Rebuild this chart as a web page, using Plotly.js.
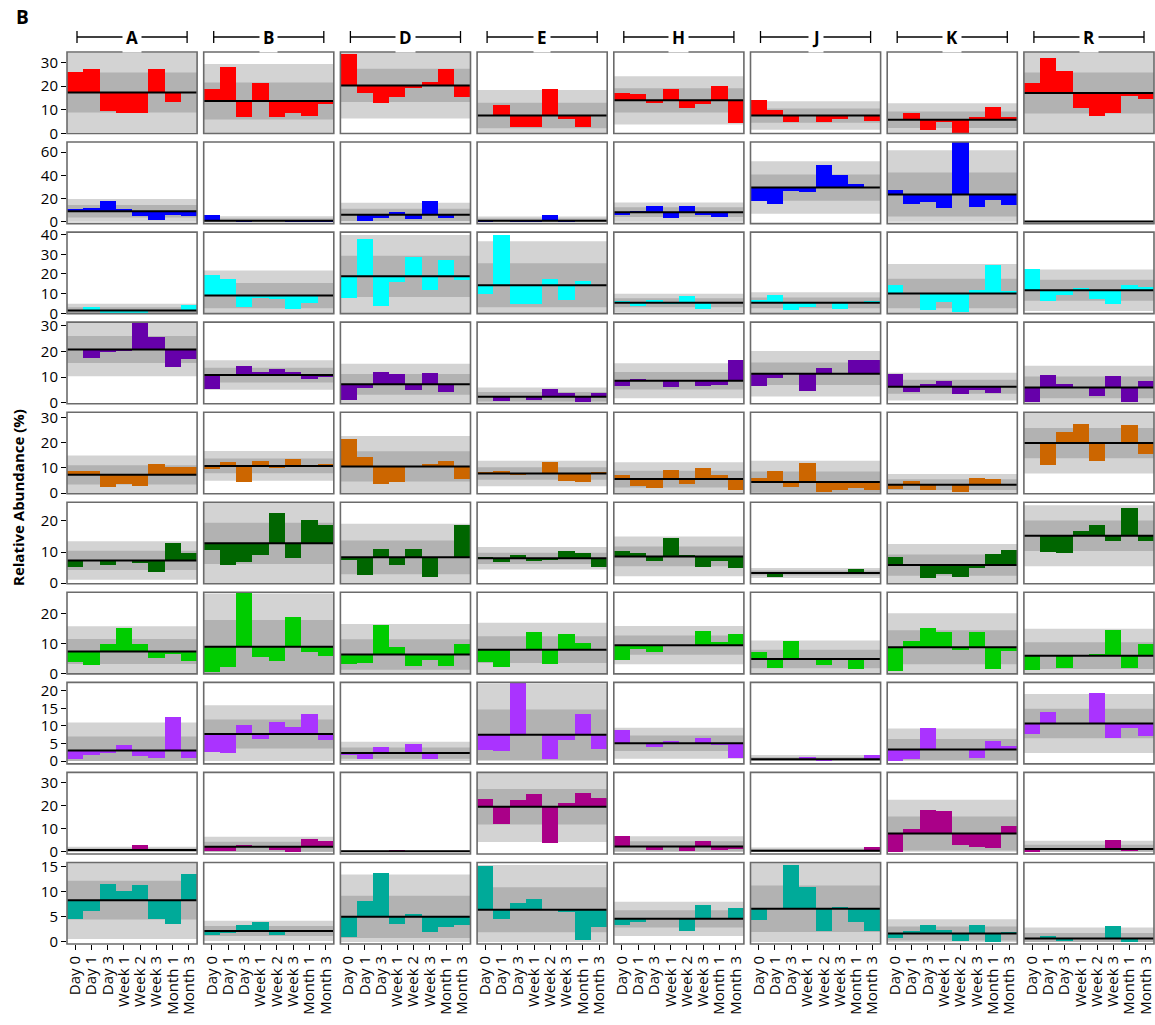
<!DOCTYPE html>
<html><head><meta charset="utf-8">
<script src="https://cdn.plot.ly/plotly-3.0.1.min.js"></script>
<style>html,body{margin:0;padding:0;background:#fff}#chart{width:1155px;height:1025px}</style>
</head><body><div id="chart"></div>
<script>
// ---------------- DATA ----------------
const subjects = ['A','B','D','E','H','J','K','R'];
const timepoints = ['Day 0','Day 1','Day 3','Week 1','Week 2','Week 3','Month 1','Month 3'];

// Row 1 (red)
const redValues = [
  [25.8,27.3,9.4,8.7,8.8,27.3,13.3,17.3],
  [18.6,27.9,7.1,21.2,7.0,8.8,7.5,12.6],
  [33.7,17.1,12.8,15.4,19.4,21.9,27.2,15.5],
  [7.6,12.1,2.9,2.9,18.7,6.3,2.9,7.8],
  [17.2,16.7,12.9,18.9,10.8,12.6,20.1,4.4],
  [14.0,9.8,5.0,7.5,4.8,6.3,7.5,5.3],
  [5.8,8.5,1.7,5.0,0.3,6.9,11.2,7.0],
  [21.3,31.7,26.5,10.8,7.5,8.5,16.0,14.4]];
const redMean = [17.3,13.7,20.3,7.6,14.0,7.6,5.8,17.1];
const redSd   = [8.4,7.8,7.0,5.4,5.1,3.0,3.5,8.6];

// Row 2 (blue)
const blueValues = [
  [10.8,12.3,17.7,10.8,4.8,1.7,6.3,5.4],
  [5.7,0.4,0.1,0.5,0.6,0.1,0.2,0.3],
  [6.0,0.8,3.4,8.2,2.8,18.0,3.7,5.5],
  [0.3,0.4,0.2,0.1,5.7,0.2,0.4,0.4],
  [6.0,9.4,13.4,3.1,13.4,6.0,4.3,8.3],
  [18.3,15.1,26.8,25.7,48.8,40.3,32.6,30.0],
  [27.4,15.4,17.4,12.0,68.6,12.9,18.9,14.8],
  [0.3,0.3,0.3,0.3,0.6,0.3,0.3,0.3]];
const blueMean = [9.1,1.0,6.0,0.9,8.3,29.5,23.5,0.3];
const blueSd   = [5.3,1.9,5.2,1.9,4.2,11.3,19.0,0.3];

// Row 3 (cyan)
const cyanValues = [
  [1.2,3.2,0.2,0.2,0.2,1.2,0.9,4.3],
  [19.3,17.6,3.0,7.6,7.3,2.4,5.4,8.6],
  [7.8,37.9,3.6,15.7,28.6,11.7,27.3,16.8],
  [9.8,39.6,4.6,4.6,17.6,6.8,16.2,14.3],
  [6.3,3.8,6.8,4.9,8.8,2.2,5.3,5.9],
  [7.0,9.5,1.9,3.0,5.3,2.4,5.3,6.4],
  [14.6,10.0,1.9,5.8,0.7,12.0,24.7,11.4],
  [22.7,6.4,9.1,12.9,7.3,4.6,14.6,13.4]];
const cyanMean = [1.4,9.0,18.8,14.3,5.3,5.3,10.1,11.7];
const cyanSd   = [1.7,6.4,10.5,11.2,2.3,2.7,7.5,5.3];

// Row 4 (purple)
const purpleValues = [
  [20.8,17.5,19.6,20.3,30.9,25.5,13.9,17.0],
  [5.3,10.8,14.4,11.9,13.2,11.8,9.4,10.0],
  [1.1,5.6,11.9,11.3,4.9,11.5,4.4,7.2],
  [2.6,0.6,2.4,1.1,5.3,3.8,0.5,3.7],
  [6.5,9.4,8.6,6.2,8.4,6.7,7.0,16.6],
  [6.7,9.5,11.3,4.8,13.7,11.3,16.5,16.5],
  [11.3,4.3,7.2,8.5,3.5,4.9,3.9,6.3],
  [0.3,10.9,7.5,6.0,2.7,10.4,0.4,8.5]];
const purpleMean = [20.7,10.8,7.2,2.4,8.6,11.3,6.3,6.0];
const purpleSd   = [5.2,2.85,4.0,1.8,3.4,4.4,2.7,4.2];

// Row 5 (orange)
const orangeValues = [
  [8.6,8.7,2.3,3.7,2.7,11.6,10.5,10.2],
  [9.5,12.3,4.5,12.7,9.8,13.6,11.1,11.6],
  [21.4,14.3,3.8,4.6,10.6,11.6,12.8,5.6],
  [8.5,8.9,7.2,7.8,12.3,5.0,4.6,8.4],
  [7.4,2.7,2.2,9.3,3.5,9.9,7.4,1.2],
  [5.9,8.9,2.6,12.1,0.4,1.4,2.1,1.4],
  [1.8,5.0,1.2,3.2,0.4,6.0,5.6,3.4],
  [19.8,11.2,24.1,27.5,12.8,20.2,27.0,15.5]];
const orangeMean = [7.3,10.8,10.6,7.8,5.6,4.4,3.4,19.8];
const orangeSd   = [3.8,2.95,6.0,2.5,3.3,4.2,2.1,6.0];

// Row 6 (dark green)
const darkGreenValues = [
  [5.3,7.4,5.8,7.4,6.5,3.5,12.8,9.8],
  [10.6,5.9,6.9,9.1,22.4,8.0,20.3,18.8],
  [7.5,2.5,11.1,5.8,10.9,2.0,8.2,18.7],
  [8.5,6.7,9.1,7.1,7.6,10.3,9.6,5.2],
  [10.3,9.8,7.0,14.4,9.1,5.3,7.0,4.9],
  [3.5,2.0,2.9,3.3,2.9,3.1,4.4,3.3],
  [8.3,5.8,1.7,3.0,2.0,4.9,9.3,10.7],
  [15.4,9.9,9.6,16.9,18.6,13.7,24.0,13.6]];
const darkGreenMean = [7.3,12.8,8.3,8.0,8.6,3.3,5.8,15.2];
const darkGreenSd   = [3.1,6.6,5.4,1.8,3.2,0.8,3.4,4.9];

// Row 7 (light green)
const greenValues = [
  [3.9,2.7,9.7,15.2,9.7,5.2,6.6,4.1],
  [0.4,2.1,27.0,5.6,4.1,18.9,7.2,5.9],
  [3.2,3.5,16.3,8.7,2.3,4.6,2.3,9.8],
  [3.8,2.2,7.9,13.8,3.0,13.1,10.2,8.2],
  [4.4,8.0,7.1,9.3,9.4,14.3,10.6,13.1],
  [7.1,1.7,10.8,4.8,2.7,4.8,1.3,4.8],
  [0.8,10.8,15.2,13.8,7.8,13.8,1.3,7.5],
  [1.0,5.9,1.9,6.1,6.3,14.4,1.9,9.7]];
const greenMean = [7.3,8.9,6.3,7.9,9.4,4.8,8.7,5.9];
const greenSd   = [4.2,8.9,5.1,4.5,3.2,3.1,5.7,4.5];

// Row 8 (violet)
const violetValues = [
  [0.6,1.8,2.2,4.5,1.4,0.9,12.4,0.9],
  [2.7,2.2,10.4,6.4,11.0,9.6,13.3,6.1],
  [1.7,0.7,4.1,2.3,5.0,0.6,2.4,2.2],
  [3.1,2.8,22.4,7.7,0.6,6.0,13.3,3.4],
  [8.8,5.1,3.9,5.8,5.2,6.5,4.5,0.8],
  [0.2,0.2,0.3,1.2,0.1,0.4,0.2,1.8],
  [0.0,0.6,9.3,3.3,3.3,0.9,5.6,4.2],
  [7.6,14.1,10.9,10.6,19.3,6.5,9.3,7.0]];
const violetMean = [3.0,7.7,2.3,7.5,5.1,0.5,3.3,10.7];
const violetSd   = [4.0,4.1,1.6,7.2,2.2,0.6,3.0,4.2];

// Row 9 (magenta)
const magentaValues = [
  [0.7,0.2,0.3,0.7,2.8,0.7,0.7,0.7],
  [0.1,0.3,2.8,2.6,0.6,0.0,5.4,4.8],
  [0.1,0.1,0.1,0.8,0.1,0.1,0.1,0.1],
  [22.8,12.1,22.6,25.0,3.9,21.1,25.7,23.6],
  [6.7,2.3,0.7,2.3,0.3,4.8,0.7,1.0],
  [0.1,0.1,0.1,0.3,0.1,0.1,0.3,2.1],
  [0.0,9.9,18.4,17.6,2.8,2.1,1.4,11.4],
  [0.0,0.7,1.0,1.0,0.7,5.3,0.1,1.0]];
const magentaMean = [0.7,2.1,0.2,19.6,2.3,0.4,7.9,1.2];
const magentaSd   = [0.7,2.2,0.25,7.7,2.2,0.7,7.4,1.8];

// Row 10 (teal)
const tealValues = [
  [4.6,6.2,11.6,10.2,11.4,4.6,3.6,13.6],
  [1.4,1.7,3.4,4.0,1.4,2.2,2.2,2.1],
  [0.9,8.1,13.7,3.6,5.6,1.9,3.0,3.4],
  [15.0,4.6,7.7,8.6,6.4,6.0,0.3,2.9],
  [3.3,4.0,4.6,4.6,2.2,7.3,4.5,6.7],
  [4.4,6.6,15.2,11.0,2.1,7.0,3.9,2.2],
  [0.7,2.2,3.3,2.4,0.1,3.4,0.0,1.9],
  [0.65,1.25,0.1,0.65,0.65,3.2,0.0,0.65]];
const tealMean = [8.3,2.2,5.0,6.4,4.6,6.6,1.7,0.7];
const tealSd   = [3.85,1.0,4.2,4.45,1.7,4.6,1.4,1.1];

// ---------------- STYLE ----------------
const rowColors = ['#ff0000','#0000ff','#00ffff','#6600aa','#cc6600','#006600','#00cc00','#aa33ff','#aa0088','#00aa99'];
const rowRanges = [[0,34.4],[-1.5,68.6],[-0.2,41.3],[-0.3,31.3],[-0.2,32],[-0.2,26],[-0.2,27.1],[-0.8,22.4],[-1.0,34.6],[-0.4,15.8]];
const rowDticks = [10,20,10,10,10,10,10,5,10,5];

const rows = [
  [redValues,redMean,redSd],[blueValues,blueMean,blueSd],[cyanValues,cyanMean,cyanSd],
  [purpleValues,purpleMean,purpleSd],[orangeValues,orangeMean,orangeSd],
  [darkGreenValues,darkGreenMean,darkGreenSd],[greenValues,greenMean,greenSd],
  [violetValues,violetMean,violetSd],[magentaValues,magentaMean,magentaSd],
  [tealValues,tealMean,tealSd]];

const W=1155,H=1025,ML=67,MR=1,MT=52,MB=81;
const PW=W-ML-MR, PH=H-MT-MB;
const colStep=136.7, colW=130.1, rowStep=90.05, rowH=81.55;
const FONT='"Open Sans", "DejaVu Sans", sans-serif';
const px2x = p => (p-ML)/PW;
const py2y = p => 1-(p-MT)/PH;

const layout = {
  width:W, height:H, margin:{l:ML,r:MR,t:MT,b:MB},
  paper_bgcolor:'#fff', plot_bgcolor:'#fff', showlegend:false,
  bargap:0, font:{family:FONT,size:15,color:'#000'},
  shapes:[], annotations:[]
};
const data=[];

for(let c=0;c<8;c++){
  const key='xaxis'+(c?c+1:'');
  const x0=c*colStep;
  layout[key]={domain:[x0/PW,(x0+colW)/PW], anchor:'y10', range:[-0.5,7.5], type:'category',
    categoryarray:timepoints, tickmode:'linear', tick0:0, dtick:1,
    showgrid:false, zeroline:false, showline:false,
    ticks:'outside', ticklen:5, tickcolor:'#000', tickangle:-90, tickfont:{family:FONT,size:15,color:'#000'}, fixedrange:true};
  // header bracket
  const L=ML+x0+10, R=ML+x0+colW-10;
  layout.shapes.push({type:'line',xref:'paper',yref:'paper',x0:px2x(L),x1:px2x(R),y0:py2y(37),y1:py2y(37),line:{color:'#000',width:1.3}});
  layout.shapes.push({type:'line',xref:'paper',yref:'paper',x0:px2x(L),x1:px2x(L),y0:py2y(31),y1:py2y(43),line:{color:'#000',width:1.3}});
  layout.shapes.push({type:'line',xref:'paper',yref:'paper',x0:px2x(R),x1:px2x(R),y0:py2y(31),y1:py2y(43),line:{color:'#000',width:1.3}});
  layout.annotations.push({xref:'paper',yref:'paper',x:px2x((L+R)/2),y:py2y(37),text:'<b>'+subjects[c]+'</b>',
    showarrow:false,bgcolor:'#fff',borderpad:3,font:{family:FONT,size:17,color:'#000'},xanchor:'center',yanchor:'middle'});
}
for(let r=0;r<10;r++){
  const key='yaxis'+(r?r+1:'');
  const top=r*rowStep, bot=top+rowH;
  layout[key]={domain:[1-bot/PH,1-top/PH], anchor:'x', range:rowRanges[r], dtick:rowDticks[r], tick0:0,
    showgrid:false, zeroline:false, showline:false, ticks:'outside', ticklen:5, tickcolor:'#000',
    tickfont:{family:FONT,size:15,color:'#000'}, fixedrange:true};
  const [vals,means,sds]=rows[r];
  for(let c=0;c<8;c++){
    const xa='x'+(c?c+1:''), ya='y'+(r?r+1:'');
    const m=means[c], s=sds[c];
    layout.shapes.push({type:'rect',xref:xa,yref:ya,x0:-0.5,x1:7.5,y0:Math.max(0,m-2*s),y1:m+2*s,fillcolor:'#d3d3d3',line:{width:0},layer:'below'});
    layout.shapes.push({type:'rect',xref:xa,yref:ya,x0:-0.5,x1:7.5,y0:Math.max(0,m-s),y1:m+s,fillcolor:'#b2b2b2',line:{width:0},layer:'below'});
    data.push({type:'bar',x:timepoints,y:vals[c].map(v=>v-m),base:m,xaxis:xa,yaxis:ya,
      marker:{color:rowColors[r],line:{width:0}},hoverinfo:'skip',showlegend:false});
    layout.shapes.push({type:'line',xref:xa,yref:ya,x0:-0.5,x1:7.5,y0:m,y1:m,line:{color:'#000',width:2},layer:'above'});
    // panel frame
    const fx0=c*colStep/PW, fx1=(c*colStep+colW)/PW;
    layout.shapes.push({type:'rect',xref:'paper',yref:'paper',x0:fx0,x1:fx1,y0:1-bot/PH,y1:1-top/PH,
      line:{color:'#6b6b6b',width:1.6},fillcolor:'rgba(0,0,0,0)',layer:'above'});
  }
}
layout.annotations.push({xref:'paper',yref:'paper',x:px2x(22),y:py2y(17),text:'<b>B</b>',showarrow:false,
  font:{family:FONT,size:19,color:'#000'},xanchor:'center',yanchor:'middle'});
layout.annotations.push({xref:'paper',yref:'paper',x:px2x(18),y:py2y(498),text:'<b>Relative Abundance (%)</b>',showarrow:false,
  textangle:-90,font:{family:FONT,size:15,color:'#000'},xanchor:'center',yanchor:'middle'});

Plotly.newPlot('chart',data,layout,{staticPlot:true,displayModeBar:false});
</script></body></html>
